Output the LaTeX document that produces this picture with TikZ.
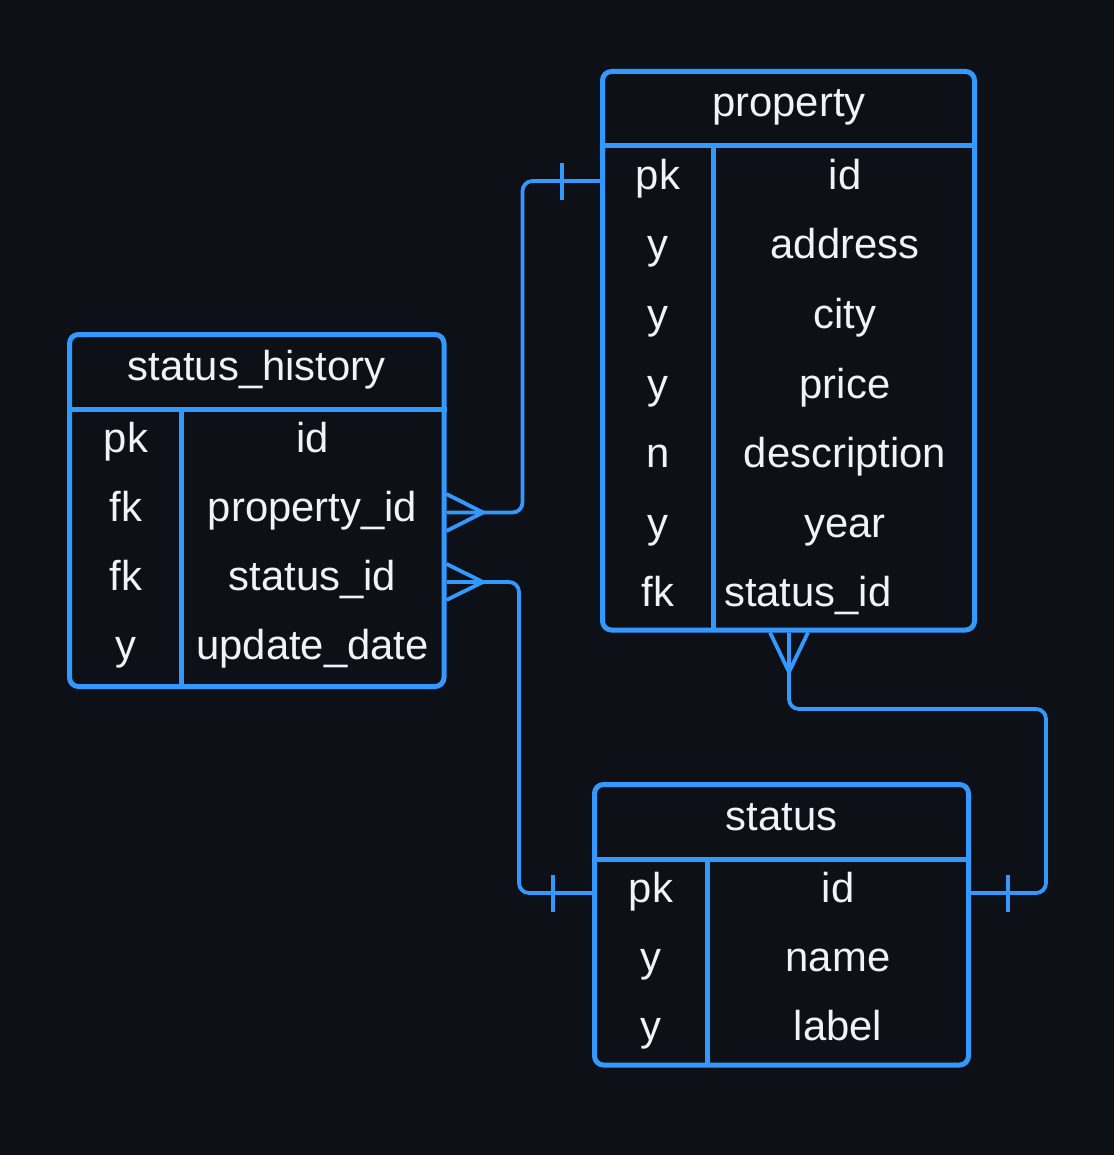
\documentclass[tikz,border=0pt]{standalone}
\usepackage{fontspec}
\setmainfont{Liberation Sans}
\definecolor{bg}{HTML}{0D1117}
\definecolor{blu}{HTML}{3399FF}
\definecolor{fg}{HTML}{F0F3F8}
\begin{document}
\begin{tikzpicture}[x=1pt,y=-1pt,
  tbl/.style={draw=blu, line width=5pt, rounded corners=9pt, fill=bg, inner sep=0pt},
  sep/.style={draw=blu, line width=5pt},
  txt/.style={text=fg, anchor=base, inner sep=0pt, font=\fontsize{41.8}{50}\selectfont},
  txtl/.style={txt, anchor=base west},
  rel/.style={draw=blu, line width=3.8pt, rounded corners=10pt},
  relmark/.style={draw=blu, line width=3.8pt}
]
\useasboundingbox (0,0) rectangle (1114,1155);
\fill[bg] (0,0) rectangle (1114,1155);

% ---------- property ----------
\node[tbl, minimum width=372pt, minimum height=558.5pt] (prop) at (788.5,350.75) {};
\draw[sep] (prop.west |- 0,146) -- (prop.east |- 0,146);
\draw[sep] (713.5,146) -- (713.5,630);
\node[txt] (propT) at (789,117) {property};
\node[txt] (pk1) at (658,189.5) {pk};   \node[txt] (pid)   at (845,189.5) {id};
\node[txt] (pk2) at (658,259) {y};  \node[txt] (paddr) at (845,259) {address};
\node[txt] (pk3) at (658,328.5) {y};    \node[txt] (pcity) at (845,328.5) {city};
\node[txt] (pk4) at (658,398) {y};  \node[txt] (ppri)  at (845,398) {price};
\node[txt] (pk5) at (658,467.5) {n};    \node[txt] (pdesc) at (845,467.5) {description};
\node[txt] (pk6) at (658,537) {y};  \node[txt] (pyear) at (845,537) {year};
\node[txt] (pk7) at (658,606) {fk}; \node[txtl] (pstat) at (724,606) {status\_id};

% ---------- status_history ----------
\node[tbl, minimum width=374.5pt, minimum height=352pt] (hist) at (256.75,510.5) {};
\draw[sep] (hist.west |- 0,409) -- (hist.east |- 0,409);
\draw[sep] (181.5,409) -- (181.5,686.5);
\node[txt] (histT) at (256.5,380.5) {status\_history};
\node[txt] (hk1) at (126,452) {pk}; \node[txt] (hid)   at (312.5,452) {id};
\node[txt] (hk2) at (126,521.5) {fk};   \node[txt] (hprop) at (312.5,521.5) {property\_id};
\node[txt] (hk3) at (126,590.5) {fk};   \node[txt] (hstat) at (312.5,590.5) {status\_id};
\node[txt] (hk4) at (126,659.5) {y};    \node[txt] (hupd)  at (312.5,659.5) {update\_date};

% ---------- status ----------
\node[tbl, minimum width=374pt, minimum height=280.5pt] (stat) at (781.5,924.75) {};
\draw[sep] (stat.west |- 0,859) -- (stat.east |- 0,859);
\draw[sep] (707,859) -- (707,1065);
\node[txt] (statT) at (781.5,830.5) {status};
\node[txt] (sk1) at (651,902) {pk}; \node[txt] (sid)   at (838,902) {id};
\node[txt] (sk2) at (651,971) {y};  \node[txt] (sname) at (838,971) {name};
\node[txt] (sk3) at (651,1040.5) {y};   \node[txt] (slab)  at (838,1040.5) {label};

% ---------- connection points ----------
\coordinate (cPropId)   at (prop.west |- 0,181);
\coordinate (cHistProp) at (hist.east |- 0,512.5);
\coordinate (cHistStat) at (hist.east |- 0,582);
\coordinate (cStatIdL)  at (stat.west |- 0,893);
\coordinate (cStatIdR)  at (stat.east |- 0,893);
\coordinate (cPropFk)   at (prop.south -| 789,0);

% ---------- relation 1: property.id -> status_history.property_id ----------
\draw[rel] (cPropId) -- (522.5,181) -- (522.5,512.5) -- (cHistProp);
\draw[relmark] (562,163) -- (562,200);
\draw[relmark] ([yshift=-18.5pt]cHistProp) -- (483,512.5) -- ([yshift=18.5pt]cHistProp);

% ---------- relation 2: status.id -> status_history.status_id ----------
\draw[rel] (cHistStat) -- (519,582) -- (519,893) -- (cStatIdL);
\draw[relmark] (553,875) -- (553,912);
\draw[relmark] ([yshift=-18pt]cHistStat) -- (483,582) -- ([yshift=18pt]cHistStat);

% ---------- relation 3: status.id -> property.status_id ----------
\draw[rel] (cPropFk) -- (789,709) -- (1046,709) -- (1046,893) -- (cStatIdR);
\draw[relmark] (1008,875) -- (1008,912);
\draw[relmark] ([xshift=-19pt]cPropFk) -- (789,672) -- ([xshift=19pt]cPropFk);
\end{tikzpicture}
\end{document}
